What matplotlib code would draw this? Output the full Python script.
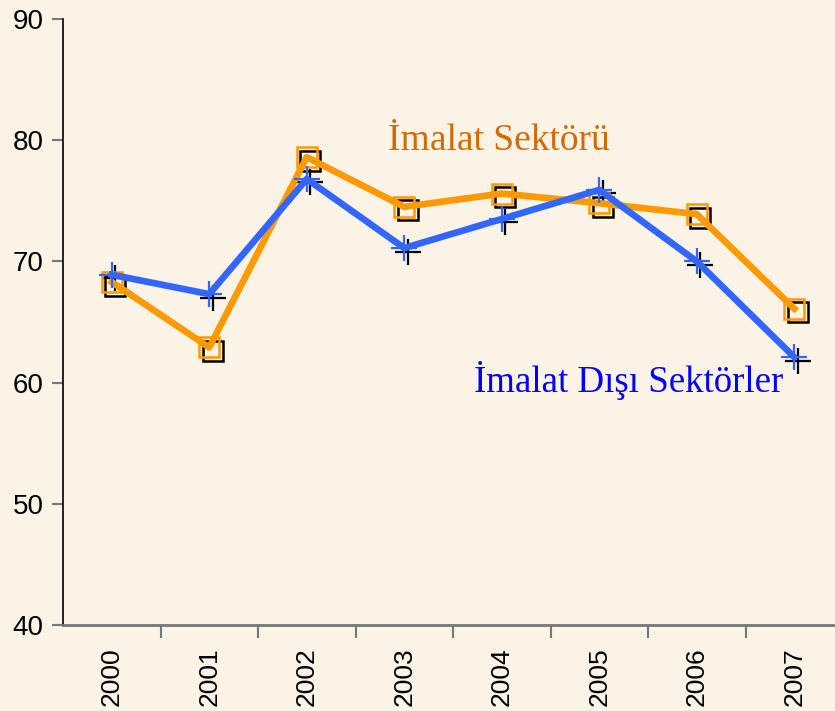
import matplotlib.pyplot as plt
import matplotlib.transforms as mtransforms

years = ["2000", "2001", "2002", "2003", "2004", "2005", "2006", "2007"]
imalat = [68.3, 62.9, 78.6, 74.5, 75.6, 74.8, 73.9, 66.1]
imalat_disi = [68.9, 67.3, 76.8, 71.1, 73.5, 75.9, 70.0, 62.1]

bg = "#FAF3E6"
orange = "#FF9900"
blue = "#3366FF"

fig = plt.figure(figsize=(8.35, 7.11), dpi=100, facecolor=bg)
ax = fig.add_axes([63 / 835, 86 / 711, 780 / 835, 606 / 711], facecolor=bg)
x = list(range(len(years)))

# black drop-shadow markers, shifted a few pixels right/down
shadow = mtransforms.offset_copy(ax.transData, fig=fig, x=3.5, y=-3.5, units="dots")
ax.plot(x, imalat, linestyle="none", marker="s", markersize=14, mfc="none",
        mec="black", mew=1.8, transform=shadow, zorder=2)
ax.plot(x, imalat_disi, linestyle="none", marker="+", markersize=19,
        mec="black", mew=1.6, transform=shadow, zorder=2)

ax.plot(x, imalat, color=orange, lw=4.8, marker="s", markersize=14, mfc="none",
        mec=orange, mew=1.8, zorder=3, solid_joinstyle="round")
ax.plot(x, imalat_disi, color=blue, lw=4.8, marker="+", markersize=19,
        mec=blue, mew=1.6, zorder=4, solid_joinstyle="round")

# series labels, placed in pixels measured from the top-left corner
def px(xp, yp):
    return (xp, 711 - yp)

ax.text(*px(499, 150), "İmalat Sektörü", transform=None, color="#D26A00",
        fontsize=27, family="Liberation Serif", ha="center", va="baseline")
ax.text(*px(629, 392), "İmalat Dışı Sektörler", transform=None, color="#0000FF",
        fontsize=26.6, family="Liberation Serif", ha="center", va="baseline")

ax.set_xlim(-0.5, 7.5)
ax.set_ylim(40, 90)
ax.set_yticks([40, 50, 60, 70, 80, 90])
ax.set_xticks(x)
ax.set_xticklabels(years, rotation=90, fontsize=19, family="Liberation Sans")
ax.tick_params(axis="x", length=0, pad=16)
ax.set_xticks([i + 0.5 for i in range(7)], minor=True)
ax.tick_params(axis="x", which="minor", length=9, color="#777777", width=1.5)
ax.tick_params(axis="y", length=8, color="#777777", width=1.5, pad=6)
for lab in ax.get_yticklabels():
    lab.set_fontsize(20)
    lab.set_family("Liberation Sans")

ax.spines["top"].set_visible(False)
ax.spines["right"].set_visible(False)
ax.spines["left"].set_color("black")
ax.spines["left"].set_linewidth(1.2)
ax.spines["bottom"].set_color("#777777")
ax.spines["bottom"].set_linewidth(2)
for sp in ax.spines.values():
    sp.set_clip_on(False)

fig.savefig("out.png", dpi=100, facecolor=bg)
